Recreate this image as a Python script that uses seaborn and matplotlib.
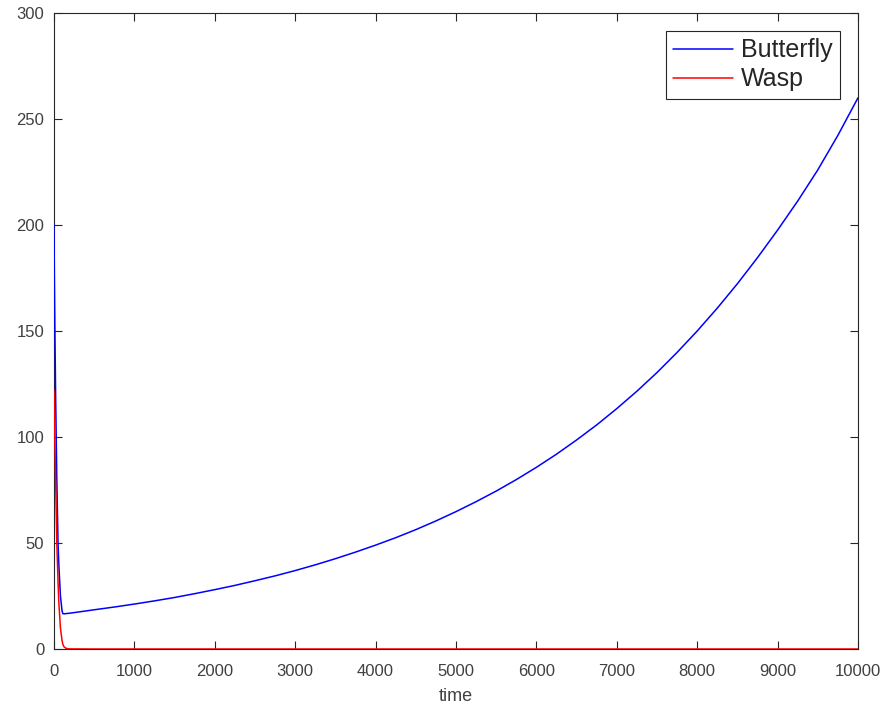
import matplotlib
matplotlib.use("Agg")
import matplotlib.pyplot as plt
import seaborn as sns
import pandas as pd

# Data
time = [0, 5, 10, 20, 35, 50, 60, 80, 100, 110, 125, 150, 200, 500, 750,
        1000, 1250, 1500, 1750, 2000, 2250, 2500, 2750, 3000, 3250, 3500, 3750,
        4000, 4250, 4500, 4750, 5000, 5250, 5500, 5750, 6000, 6250, 6500, 6750,
        7000, 7250, 7500, 7750, 8000, 8250, 8500, 8750, 9000, 9250, 9500, 9750, 10000]
butterfly = [200, 175, 155, 120, 80, 50, 40, 25, 18, 16.7, 16.6, 16.7, 16.9, 18.5, 19.8,
             21.2, 22.7, 24.3, 26.1, 28.0, 30.0, 32.2, 34.5, 37.0, 39.7, 42.6, 45.7,
             49.0, 52.5, 56.3, 60.4, 64.8, 69.5, 74.5, 79.9, 85.7, 91.9, 98.6, 105.7,
             113.4, 121.6, 130.4, 139.9, 150.0, 160.8, 172.3, 184.6, 197.6, 211.3, 226.0,
             242.3, 260.0]
wasp = [122, 110, 100, 80, 50, 32, 22, 10, 4, 2.2, 1, 0.3, 0.05, 0, 0,
        0, 0, 0, 0, 0, 0, 0, 0, 0, 0, 0, 0,
        0, 0, 0, 0, 0, 0, 0, 0, 0, 0, 0, 0,
        0, 0, 0, 0, 0, 0, 0, 0, 0, 0, 0, 0, 0]
series_names = ["Butterfly", "Wasp"]
x_ticks = [0, 1000, 2000, 3000, 4000, 5000, 6000, 7000, 8000, 9000, 10000]
y_ticks = [0, 50, 100, 150, 200, 250, 300]

df = pd.concat([
    pd.DataFrame({"time": time, "value": butterfly, "series": series_names[0]}),
    pd.DataFrame({"time": time, "value": wasp, "series": series_names[1]}),
])

sns.set_style("ticks")
plt.rcParams["font.family"] = ["Liberation Sans", "DejaVu Sans"]

fig = plt.figure(figsize=(8.84, 7.05), dpi=100)
ax = fig.add_axes([54 / 884, 1 - 649 / 705, (858 - 54) / 884, (649 - 13) / 705])

sns.lineplot(data=df, x="time", y="value", hue="series", sort=False,
             palette={"Butterfly": "#0000ff", "Wasp": "#ff0000"},
             linewidth=1.1, ax=ax, estimator=None)
for ln in ax.get_lines():
    ln.set_zorder(3)

ax.set_xlim(0, 10000)
ax.set_ylim(0, 300)
ax.set_xticks(x_ticks)
ax.set_yticks(y_ticks)
ax.set_xticklabels([str(t) for t in x_ticks])
ax.set_yticklabels([str(t) for t in y_ticks])
ax.set_xlabel("time", fontsize=13, color="#404040", labelpad=6)
ax.set_ylabel("")
ax.tick_params(direction="in", top=True, right=True, length=6, width=0.8,
               labelsize=12, labelcolor="#404040", color="#262626")
ax.tick_params(axis="x", pad=11)
ax.tick_params(axis="y", pad=7)
for s in ax.spines.values():
    s.set_visible(True)
    s.set_color("#262626")
    s.set_linewidth(0.8)

leg = ax.legend(loc="upper right", bbox_to_anchor=(0.9776, 0.9717), fontsize=18,
                frameon=True, fancybox=False, handlelength=2.4, handletextpad=0.3,
                borderpad=0.3, labelspacing=0.2, borderaxespad=0)
leg.set_zorder(5)
leg.get_frame().set_edgecolor("#262626")
leg.get_frame().set_linewidth(0.8)
leg.get_frame().set_alpha(1)
for t in leg.get_texts():
    t.set_color("#262626")

fig.savefig("out.png", dpi=100)
